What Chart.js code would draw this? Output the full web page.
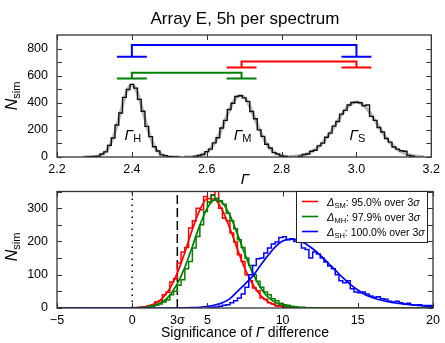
<!DOCTYPE html>
<html>
<head>
<meta charset="utf-8">
<script src="https://cdn.jsdelivr.net/npm/chart.js@4.4.0/dist/chart.umd.min.js"></script>
<style>
  body { margin: 0; background: #fff; }
  #wrap { position: relative; width: 445px; height: 343px; }
  #topChart { position: absolute; left: 0; top: 0; }
  #botChart { position: absolute; left: 0; top: 175px; }
</style>
</head>
<body>
<div id="wrap">
  <canvas id="topChart" width="445" height="190"></canvas>
  <canvas id="botChart" width="445" height="168"></canvas>
</div>
<script>
// ---- bovenste paneel: verdeling van Gamma (bins 0.01) ----
const gammaNames = ['H', 'M', 'S'];
const gammaMean = [2.40, 2.693, 3.00];
const gammaErr = [0.04, 0.04, 0.04];
const gammaTicks = [2.2, 2.4, 2.6, 2.8, 3.0, 3.2];
const topYTicks = [0, 100, 200, 300, 400, 500, 600, 700, 800];

const gammaBinW = 0.01;
const histHStart = 2.275;
const histH = [0, 2, 4, 6, 22, 38, 86, 140, 236, 325, 440, 498, 536, 508, 425, 338, 226, 150, 76, 44, 16, 10, 2, 1, 0];
const histMStart = 2.565;
const histM = [4, 12, 18, 40, 58, 104, 142, 214, 270, 350, 396, 446, 452, 436, 410, 336, 282, 200, 152, 94, 66, 32, 22, 8, 4];
const histSStart = 2.845;
const histS = [6, 18, 22, 42, 50, 82, 102, 146, 176, 228, 262, 316, 344, 384, 402, 404, 400, 378, 384, 300, 270, 218, 184, 136, 110, 74, 58, 46, 42, 12, 6];

// gefitte curves (grijs)
const fitHStart = 2.27;
const fitH = [0, 0, 1, 3, 8, 19, 41, 81, 144, 231, 332, 431, 503, 530, 503, 431, 332, 231, 144, 81, 41, 19, 8, 3, 1, 0, 0];
const fitMStart = 2.54;
const fitM = [0, 1, 2, 5, 10, 20, 36, 62, 98, 148, 208, 276, 343, 402, 441, 455, 441, 402, 343, 276, 208, 148, 98, 62, 36, 20, 10, 5, 2, 1, 0];
const fitSStart = 2.82;
const fitS = [2, 3, 6, 10, 16, 25, 38, 55, 78, 106, 141, 180, 223, 268, 311, 349, 379, 398, 405, 398, 379, 349, 311, 268, 223, 180, 141, 106, 78, 55, 38, 25, 16, 10, 6, 3, 2];

// haken tussen de paren
const pairFrom = [0, 1, 0];
const pairTo = [2, 2, 1];
const pairBar = [740, 661, 580];
const pairTop = [827, 704, 622];
const pairColors = ['#0000ff', '#ff0000', '#008000'];

// ---- onderste paneel: significantie van het verschil (bins 0.25) ----
const sigTicks = [-5, 0, 3, 5, 10, 15, 20];
const sigYTicks = [0, 50, 100, 150, 200, 250, 300, 350];
const zeroLine = 0;
const threeSigma = 3;

const sigBinW = 0.25;
const histSMStart = 0;
const histSM = [0, 1, 2, 3, 7, 9, 18, 22, 40, 47, 78, 88, 135, 168, 182, 240, 262, 300, 295, 335, 318, 340, 352, 300, 270, 262, 225, 198, 160, 140, 100, 82, 60, 52, 30, 26, 16, 12, 6, 5, 2, 3, 1, 0];
const histMHStart = 0;
const histMH = [0, 0, 1, 1, 3, 5, 8, 12, 18, 24, 40, 50, 68, 85, 118, 140, 180, 215, 250, 290, 318, 338, 330, 322, 312, 285, 262, 238, 205, 182, 150, 128, 100, 80, 62, 48, 40, 28, 22, 14, 10, 8, 5, 4, 2, 2, 1, 1, 0];
const histSHStart = 5;
const histSH = [0, 2, 3, 5, 8, 10, 16, 22, 30, 42, 62, 100, 128, 148, 150, 165, 180, 192, 198, 212,
                214, 205, 208, 200, 205, 180, 176, 150, 168, 162, 150, 138, 126, 118, 100, 82, 76, 82, 58, 48,
                46, 48, 42, 36, 32, 34, 28, 26, 20, 18, 20, 16, 12, 14, 10, 8, 10, 7, 5, 4];

const sigFitX = [-5, 0, 0.5, 1, 1.5, 2, 2.5, 3, 3.5, 4, 4.5, 5, 5.5, 6, 6.5, 7, 7.5, 8, 8.5, 9, 9.5, 10,
                 10.5, 11, 11.5, 12, 12.5, 13, 13.5, 14, 14.5, 15, 15.5, 16, 16.5, 17, 17.5, 18, 18.5, 19, 19.5, 20];
const fitSM = [0, 0.5, 1.7, 5, 13, 29, 59, 105, 167, 236, 295, 329, 326, 293, 239, 176, 118, 72, 40, 20, 9, 4,
               1.4, 0.5, 0.2, 0, 0, 0, 0, 0, 0, 0, 0, 0, 0, 0, 0, 0, 0, 0, 0, 0];
const fitMH = [0, 0.3, 1, 3, 8, 18, 38, 73, 122, 185, 249, 301, 325, 316, 278, 222, 161, 106, 63, 34, 17, 7.4,
               3, 1.1, 0.4, 0, 0, 0, 0, 0, 0, 0, 0, 0, 0, 0, 0, 0, 0, 0, 0, 0];
const fitSH = [0, 0, 0, 0, 0, 0, 0, 0.2, 0.5, 1, 2.3, 4.7, 9, 16, 28, 50, 72, 95, 126, 156, 183, 201,
               207, 204, 194, 178, 159, 136, 114, 91, 71, 54, 40, 31, 24, 19, 15, 12, 10, 8, 7, 7];

const legendSub = ['SM', 'MH', 'SH'];
const legendPct = ['95.0%', '97.9%', '100.0%'];
const legendColors = ['#ff0000', '#008000', '#0000ff'];

const FONT = "'Liberation Sans', Arial, Helvetica, sans-serif";

// ---- hulpfuncties ----
function stepPoints(start, w, counts) {
    const pts = [{ x: start, y: 0 }];
    counts.forEach((c, i) => pts.push({ x: start + i * w, y: c }));
    pts.push({ x: start + counts.length * w, y: 0 });
    return pts;
}

function gridPoints(start, step, vals) {
    return vals.map((v, i) => ({ x: start + i * step, y: v }));
}

function xyPoints(xs, ys) {
    return xs.map((x, i) => ({ x: x, y: ys[i] }));
}

function bracketPoints(i) {
    const a = gammaMean[pairFrom[i]], b = gammaMean[pairTo[i]];
    const ea = gammaErr[pairFrom[i]], eb = gammaErr[pairTo[i]];
    const lo = pairBar[i], hi = pairTop[i];
    return [
        { x: a - ea, y: lo }, { x: a + ea, y: lo }, { x: a, y: null },
        { x: a, y: lo }, { x: a, y: hi }, { x: b, y: hi }, { x: b, y: lo }, { x: b, y: null },
        { x: b - eb, y: lo }, { x: b + eb, y: lo }
    ];
}

function richText(ctx, segs, x, y, align) {
    let total = 0;
    segs.forEach(s => { ctx.font = s.font; s.w = ctx.measureText(s.text).width; total += s.w; });
    let cx = align === 'left' ? x : x - total / 2;
    segs.forEach(s => {
        ctx.font = s.font;
        ctx.fillText(s.text, cx, y + (s.dy || 0));
        cx += s.w;
    });
}

function drawNsim(ctx, x, cy) {
    ctx.save();
    ctx.translate(x, cy);
    ctx.rotate(-Math.PI / 2);
    ctx.fillStyle = '#000';
    ctx.textBaseline = 'alphabetic';
    richText(ctx, [
        { text: 'N', font: 'italic 16px ' + FONT },
        { text: 'sim', font: '11px ' + FONT, dy: 3 }
    ], 0, 0);
    ctx.restore();
}

function drawFrame(chart, xMarks, yMarks) {
    const { ctx, chartArea: a, scales } = chart;
    ctx.save();
    ctx.strokeStyle = '#333';
    ctx.lineWidth = 1;
    ctx.beginPath();
    xMarks.forEach(v => {
        const p = Math.round(scales.x.getPixelForValue(v)) + 0.5;
        ctx.moveTo(p, a.bottom); ctx.lineTo(p, a.bottom - 5);
        ctx.moveTo(p, a.top); ctx.lineTo(p, a.top + 5);
    });
    yMarks.forEach(v => {
        const p = Math.round(scales.y.getPixelForValue(v)) + 0.5;
        ctx.moveTo(a.left, p); ctx.lineTo(a.left + 5, p);
        ctx.moveTo(a.right, p); ctx.lineTo(a.right - 5, p);
    });
    ctx.stroke();
    ctx.lineWidth = 1.3;
    ctx.strokeRect(a.left, a.top, a.right - a.left, a.bottom - a.top);
    ctx.restore();
}

const tickFont = { family: FONT, size: 12.5 };

// ---- bovenste grafiek ----
const topDeco = {
    id: 'topDeco',
    afterDatasetsDraw(chart) {
        const { ctx, scales } = chart;
        drawFrame(chart, gammaTicks, topYTicks);
        ctx.save();
        ctx.fillStyle = '#000';
        ctx.textBaseline = 'alphabetic';
        ctx.textAlign = 'left';
        // Gamma labels bij de pieken
        gammaNames.forEach((n, i) => {
            const px = scales.x.getPixelForValue(gammaMean[i]);
            const py = scales.y.getPixelForValue(125);
            richText(ctx, [
                { text: 'Γ', font: 'italic 15px ' + FONT },
                { text: n, font: '11px ' + FONT, dy: 2 }
            ], px + 1, py);
        });
        // titel en as-titel
        ctx.font = '17px ' + FONT;
        ctx.textAlign = 'center';
        ctx.fillText('Array E, 5h per spectrum', 245, 24);
        ctx.textAlign = 'left';
        richText(ctx, [{ text: 'Γ', font: 'italic 15px ' + FONT }], 245, 184);
        ctx.restore();
        drawNsim(ctx, 17, 96);
    }
};

const topDatasets = [];
pairColors.forEach((col, i) => {
    topDatasets.push({ data: bracketPoints(i), borderColor: col, borderWidth: 2, spanGaps: false });
});
[[histHStart, histH], [histMStart, histM], [histSStart, histS]].forEach(([s, h]) => {
    topDatasets.push({ data: stepPoints(s, gammaBinW, h), borderColor: '#111', borderWidth: 1.4, stepped: 'before' });
});
[[fitHStart, fitH], [fitMStart, fitM], [fitSStart, fitS]].forEach(([s, f]) => {
    topDatasets.push({ data: gridPoints(s, gammaBinW, f), borderColor: 'rgba(170,170,170,0.85)', borderWidth: 3.2,
        cubicInterpolationMode: 'monotone' });
});

new Chart(document.getElementById('topChart'), {
    type: 'line',
    data: { datasets: topDatasets },
    options: {
        responsive: false,
        animation: false,
        devicePixelRatio: 1,
        events: [],
        layout: { padding: { left: 0, right: 12, top: 35, bottom: 0 } },
        elements: { point: { radius: 0 }, line: { fill: false, borderJoinStyle: 'miter' } },
        plugins: { legend: { display: false }, tooltip: { enabled: false }, title: { display: false } },
        scales: {
            x: {
                type: 'linear', min: 2.2, max: 3.2,
                afterBuildTicks: s => { s.ticks = gammaTicks.map(v => ({ value: v })); },
                afterFit: s => { s.height = 33; },
                ticks: { font: tickFont, color: '#000', padding: 5, maxRotation: 0, autoSkip: false,
                    callback: v => v.toFixed(1) },
                grid: { display: false, drawTicks: false },
                border: { display: false }
            },
            y: {
                type: 'linear', min: 0, max: 900,
                afterBuildTicks: s => { s.ticks = topYTicks.map(v => ({ value: v })); },
                afterFit: s => { s.width = 57; },
                ticks: { font: tickFont, color: '#000', padding: 9 },
                grid: { display: false, drawTicks: false },
                border: { display: false }
            }
        }
    },
    plugins: [topDeco]
});

// ---- onderste grafiek ----
const botDeco = {
    id: 'botDeco',
    afterDatasetsDraw(chart) {
        const { ctx } = chart;
        drawFrame(chart, sigTicks.filter(v => v !== threeSigma), sigYTicks);
        ctx.save();
        // legenda
        const bx = 296, by = 16, bw = 131, bh = 51;
        ctx.fillStyle = '#fff';
        ctx.fillRect(bx, by, bw, bh);
        ctx.strokeStyle = '#222';
        ctx.lineWidth = 1;
        ctx.strokeRect(bx + 0.5, by + 0.5, bw, bh);
        ctx.textBaseline = 'alphabetic';
        legendSub.forEach((sub, i) => {
            const ly = by + 10.5 + i * 15;
            ctx.strokeStyle = legendColors[i];
            ctx.lineWidth = 1.6;
            ctx.beginPath();
            ctx.moveTo(bx + 6, ly); ctx.lineTo(bx + 22, ly);
            ctx.stroke();
            ctx.fillStyle = '#000';
            richText(ctx, [
                { text: 'Δ', font: 'italic 11px ' + FONT },
                { text: sub, font: '7.5px ' + FONT, dy: 2.5 },
                { text: ': ' + legendPct[i] + ' over 3', font: '10.5px ' + FONT },
                { text: 'σ', font: 'italic 10.5px ' + FONT }
            ], bx + 31, ly + 4, 'left');
        });
        // as-titel
        ctx.fillStyle = '#000';
        richText(ctx, [
            { text: 'Significance of ', font: '14px ' + FONT },
            { text: 'Γ', font: 'italic 14px ' + FONT },
            { text: ' difference', font: '14px ' + FONT }
        ], 245, 162);
        ctx.restore();
        drawNsim(ctx, 17, 72);
    }
};

const botDatasets = [
    { data: stepPoints(histSHStart, sigBinW, histSH), borderColor: '#0000ff', borderWidth: 1.5, stepped: 'before' },
    { data: xyPoints(sigFitX, fitSH), borderColor: '#0000ff', borderWidth: 1.7, cubicInterpolationMode: 'monotone' },
    { data: stepPoints(histMHStart, sigBinW, histMH), borderColor: '#008000', borderWidth: 1.5, stepped: 'before' },
    { data: xyPoints(sigFitX, fitMH), borderColor: '#008000', borderWidth: 1.7, cubicInterpolationMode: 'monotone' },
    { data: stepPoints(histSMStart, sigBinW, histSM), borderColor: '#ff0000', borderWidth: 1.5, stepped: 'before' },
    { data: xyPoints(sigFitX, fitSM), borderColor: '#ff0000', borderWidth: 1.7, cubicInterpolationMode: 'monotone' },
    { data: [{ x: zeroLine, y: 0 }, { x: zeroLine, y: 350 }], borderColor: '#000', borderWidth: 1.5, borderDash: [1.5, 4.5] },
    { data: [{ x: threeSigma, y: 0 }, { x: threeSigma, y: 350 }], borderColor: '#000', borderWidth: 1.5, borderDash: [9, 4] }
];

new Chart(document.getElementById('botChart'), {
    type: 'line',
    data: { datasets: botDatasets },
    options: {
        responsive: false,
        animation: false,
        devicePixelRatio: 1,
        events: [],
        layout: { padding: { left: 0, right: 12, top: 11, bottom: 0 } },
        elements: { point: { radius: 0 }, line: { fill: false, borderJoinStyle: 'miter' } },
        plugins: { legend: { display: false }, tooltip: { enabled: false }, title: { display: false } },
        scales: {
            x: {
                type: 'linear', min: -5, max: 20,
                afterBuildTicks: s => { s.ticks = sigTicks.map(v => ({ value: v })); },
                afterFit: s => { s.height = 35; },
                ticks: { font: tickFont, color: '#000', padding: 5, maxRotation: 0, autoSkip: false,
                    callback: v => v === threeSigma ? '3σ' : (v < 0 ? '\u2212' + Math.abs(v) : String(v)) },
                grid: { display: false, drawTicks: false },
                border: { display: false }
            },
            y: {
                type: 'linear', min: 0, max: 350,
                afterBuildTicks: s => { s.ticks = sigYTicks.map(v => ({ value: v })); },
                afterFit: s => { s.width = 57; },
                ticks: { font: tickFont, color: '#000', padding: 9 },
                grid: { display: false, drawTicks: false },
                border: { display: false }
            }
        }
    },
    plugins: [botDeco]
});
</script>
</body>
</html>
